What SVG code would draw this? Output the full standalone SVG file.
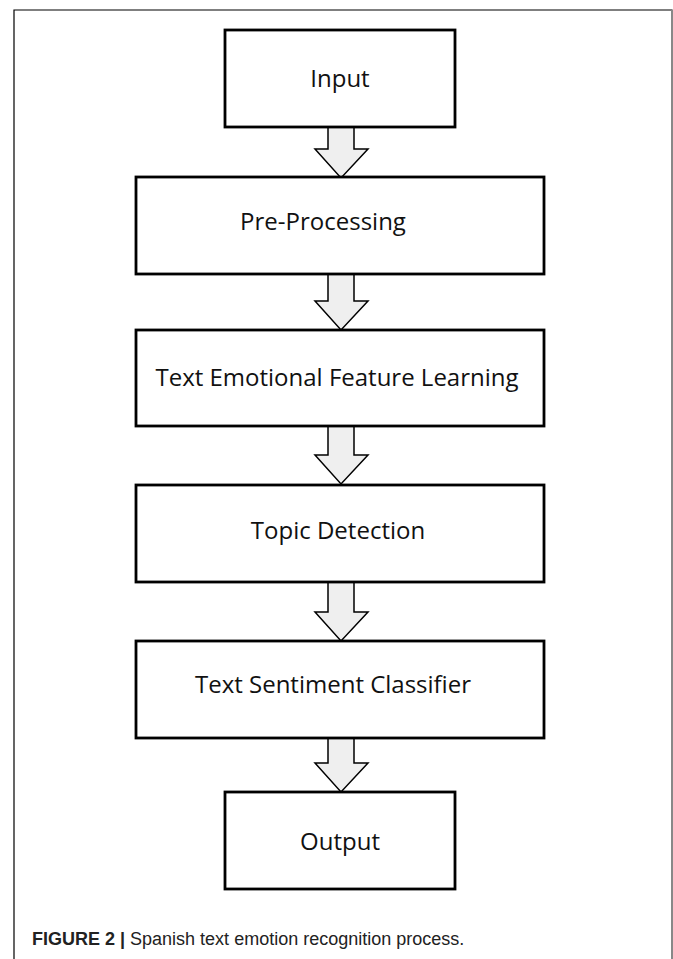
<svg xmlns="http://www.w3.org/2000/svg" width="673" height="959" viewBox="0 0 673 959">
<style>
.box{fill:#fff;stroke:#000;stroke-width:2.8}
.lbl{font-family:"Open Sans","Noto Sans",sans-serif;font-size:24px;font-weight:500;fill:#111;text-anchor:middle}
.arr{fill:#efefef;stroke:#000;stroke-width:1.5;stroke-linejoin:miter}
.cap{font-family:"Liberation Sans",Arial,sans-serif;font-size:18px;fill:#222}
</style>
<rect x="0" y="0" width="673" height="959" fill="#fff"/>
<path d="M14,959 V10 H672 V959" fill="none" stroke="#000" stroke-width="1.2"/>
<line x1="672" y1="10" x2="672" y2="959" stroke="#888" stroke-width="2"/>
<g id="connectors">
<polygon class="arr" points="328,127 354,127 354,149 368,149 341,178 315,149 328,149"/>
<polygon class="arr" points="328,274 354,274 354,301 368,301 341,330 315,301 328,301"/>
<polygon class="arr" points="328,426 354,426 354,455 368,455 341,484 315,455 328,455"/>
<polygon class="arr" points="328,582 354,582 354,612 368,612 341,641 315,612 328,612"/>
<polygon class="arr" points="328,738 354,738 354,763 368,763 341,792 315,763 328,763"/>
</g>
<g id="input"><rect class="box" x="225" y="30" width="230" height="97"/><text class="lbl" x="340" y="87">Input</text></g>
<g id="preprocessing"><rect class="box" x="136" y="177" width="408" height="97"/><text class="lbl" x="323" y="230">Pre-Processing</text></g>
<g id="feature"><rect class="box" x="136" y="330" width="408" height="96"/><text class="lbl" x="337" y="386">Text Emotional Feature Learning</text></g>
<g id="topic"><rect class="box" x="136" y="485" width="408" height="97"/><text class="lbl" x="338" y="539">Topic Detection</text></g>
<g id="classifier"><rect class="box" x="136" y="641" width="408" height="97"/><text class="lbl" x="333" y="693">Text Sentiment Classifier</text></g>
<g id="output"><rect class="box" x="225" y="792" width="230" height="97"/><text class="lbl" x="340" y="850">Output</text></g>
<text class="cap" x="32" y="945"><tspan font-weight="bold">FIGURE 2 |</tspan> Spanish text emotion recognition process.</text>
</svg>
